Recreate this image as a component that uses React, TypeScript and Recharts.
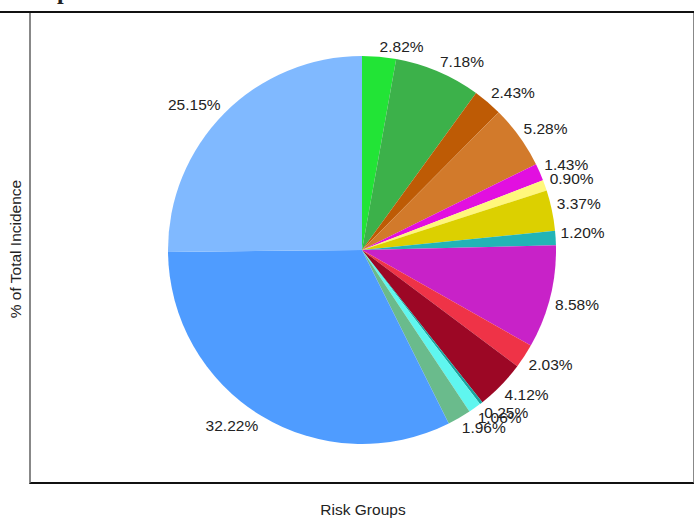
import React from "react";
import { PieChart, Pie, Cell } from "recharts";

const groups = [
  "Group 1", "Group 2", "Group 3", "Group 4", "Group 5", "Group 6", "Group 7", "Group 8",
  "Group 9", "Group 10", "Group 11", "Group 12", "Group 13", "Group 14", "Group 15", "Group 16",
];
const shares = [2.82, 7.18, 2.43, 5.28, 1.43, 0.9, 3.37, 1.2, 8.58, 2.03, 4.12, 0.25, 1.06, 1.96, 32.22, 25.15];
const colors = [
  "#22e436", "#3cb14a", "#be5b05", "#d27a2b", "#e20fe0", "#fff77c", "#dcd000", "#22b4b6",
  "#c822c8", "#ef3347", "#9c0725", "#1aa39e", "#5ff6ef", "#6abb8c", "#4f9cff", "#80b9ff",
];

const data = groups.map((name, i) => ({ name, value: shares[i] }));

const RAD = Math.PI / 180;
const font = "'Liberation Sans', Arial, sans-serif";

function renderLabel(props: any) {
  const { cx, cy, midAngle, outerRadius, value } = props;
  const r = outerRadius + 5;
  const x = cx + r * Math.cos(-midAngle * RAD);
  const y = cy + r * Math.sin(-midAngle * RAD);
  return (
    <text
      x={x}
      y={y}
      textAnchor={x > cx ? "start" : "end"}
      dominantBaseline={y < cy ? "auto" : "hanging"}
      fontSize={15.5}
      fontFamily={font}
      fill="#222"
    >
      {value.toFixed(2)}%
    </text>
  );
}

export default function App() {
  return (
    <div style={{ position: "absolute", left: 0, top: 0, width: 694, height: 529, background: "#fff", overflow: "hidden" }}>
      <div style={{ position: "absolute", left: 57, top: -22, fontFamily: "'Liberation Serif', serif", fontWeight: 700, fontSize: 24, color: "#222" }}>
        p
      </div>
      <div style={{ position: "absolute", left: 0, top: 11, width: 694, height: 2, background: "#111" }} />
      <div
        style={{
          position: "absolute",
          left: 29,
          top: 13,
          width: 662,
          height: 469,
          borderLeft: "2px solid #888",
          borderRight: "2px solid #888",
          borderBottom: "2px solid #111",
        }}
      />
      <div style={{ position: "absolute", left: 0, top: 0 }}>
        <PieChart width={694} height={529} margin={{ top: 0, right: 0, bottom: 0, left: 0 }}>
          <Pie
            data={data}
            dataKey="value"
            nameKey="name"
            cx={362}
            cy={250}
            outerRadius={194}
            startAngle={90}
            endAngle={-270}
            stroke="none"
            label={renderLabel}
            labelLine={false}
            isAnimationActive={false}
          >
            {data.map((_, i) => (
              <Cell key={i} fill={colors[i]} />
            ))}
          </Pie>
        </PieChart>
      </div>
      <div
        style={{
          position: "absolute",
          left: 16,
          top: 249,
          transform: "translate(-50%, -50%) rotate(-90deg)",
          whiteSpace: "nowrap",
          fontFamily: font,
          fontSize: 15.5,
          color: "#222",
        }}
      >
        % of Total Incidence
      </div>
      <div
        style={{
          position: "absolute",
          left: 363,
          top: 510,
          transform: "translate(-50%, -50%)",
          whiteSpace: "nowrap",
          fontFamily: font,
          fontSize: 15.5,
          color: "#222",
        }}
      >
        Risk Groups
      </div>
    </div>
  );
}
